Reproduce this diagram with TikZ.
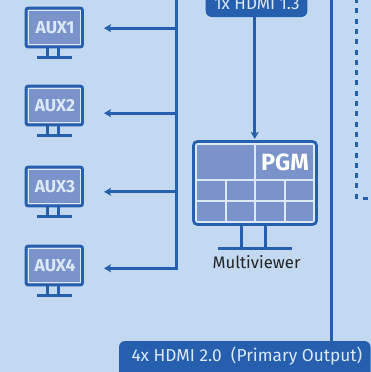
\documentclass[tikz,border=0pt]{standalone}
\usepackage{fontspec}
\setmainfont{Fira Sans}
\usetikzlibrary{arrows.meta}
\definecolor{bgc}{HTML}{C2D9F1}
\definecolor{navy}{HTML}{265FAD}
\definecolor{cellc}{HTML}{7A94CB}
\definecolor{edgec}{HTML}{DCE8F6}
\tikzset{
  wire/.style={draw=navy,line width=2.8pt},
  arr/.style={wire,-{Stealth[length=7pt,width=8pt,inset=1.5pt]}},
  scr/.style={draw=navy,line width=2.8pt,rounded corners=2.2pt,fill=bgc},
  cell/.style={fill=cellc,draw=none},
  labelbox/.style={fill=navy,rounded corners=6pt,draw=none},
  auxtxt/.style={text=edgec,font=\bfseries\fontsize{17.4}{17}\selectfont,inner sep=0pt},
}
\newcommand{\auxmon}[3]{%
  \draw[scr,fill=cellc] (26,#1) rectangle (82.5,#1+39);
  \draw[edgec,line width=0.9pt] (28.3,#1+2.3) rectangle (80.2,#1+36.7);
  \draw[wire] (47.8,#1+39) -- (47.8,#1+49);
  \draw[wire] (58.3,#1+39) -- (58.3,#1+49);
  \draw[wire] (37,#1+49.2) -- (71.5,#1+49.2);
  \node[auxtxt] (#3) at (55,#1+19.5) {#2};
}
\begin{document}
\begin{tikzpicture}[x=1pt,y=-1pt]
\useasboundingbox[fill=bgc] (0,0) rectangle (371,372);
\clip (0,0) rectangle (371,372);
% monitors
\auxmon{8}{AUX1}{a1}
\auxmon{86}{AUX2}{a2}
\auxmon{167}{AUX3}{a3}
\auxmon{246}{AUX4}{a4}
\coordinate (t0) at (176.3,0);
\coordinate (t4) at (176.3,268.3);
\coordinate (e1) at (104,28.2);
\coordinate (e2) at (104,113.2);
\coordinate (e3) at (104,191.8);
\coordinate (e4) at (104,268.3);
\draw[wire,line cap=rect] (t0) -- (t4);
\draw[arr] (176.3,28.2) -- (e1);
\draw[arr] (176.3,113.2) -- (e2);
\draw[arr] (176.3,191.8) -- (e3);
\draw[arr] (t4) -- (e4);
% multiviewer
\draw[scr,fill=edgec,rounded corners=4pt] (193.5,141.5) rectangle (316.5,224.5);
\fill[cell] (197,144.8) rectangle (254.3,179.2);
\fill[cell] (256,144.8) rectangle (313,179.2);
\foreach \xa/\xb in {197/224.8,226.5/254.3,256/283.8,285.5/313}{
  \fill[cell] (\xa,181) rectangle (\xb,200);
  \fill[cell] (\xa,201.8) rectangle (\xb,221);
}
\node[text=white,font=\bfseries\fontsize{23.5}{20}\selectfont,inner sep=0pt] (pgm) at (285,162) {PGM};
\draw[wire] (241.3,225) -- (241.3,248);
\draw[wire] (265.3,225) -- (265.3,248);
\draw[wire] (218,248.2) -- (292,248.2);
\node[text=black!85,font=\fontsize{16.7}{16}\selectfont,inner sep=0pt] (mv) at (256.5,262) {Multiviewer};
% top label
\fill[labelbox] (205.7,-12) rectangle (307.3,17);
\node[text=edgec,font=\fontsize{17}{17}\selectfont,inner sep=0pt] (hdmi13) at (257,3.5) {1x HDMI 1.3};
\coordinate (a13) at (254.7,17);
\draw[arr] (a13) -- (254.7,139);
% right lines
\coordinate (r0) at (331.3,0);
\draw[wire] (r0) -- (331.3,342);
\draw[navy,line width=2.8pt,dash pattern=on 5pt off 5.3pt] (356.3,-2) -- (356.3,200);
\draw[navy,line width=2.8pt] (362.5,198.5) -- (368,198.5);
% bottom label
\fill[labelbox] (119,341) rectangle (370.5,390);
\node[text=edgec,font=\fontsize{17.3}{17}\selectfont,inner sep=0pt] (hdmi20) at (247,356.5) {4x HDMI 2.0\ \ (Primary Output)};
\end{tikzpicture}
\end{document}
